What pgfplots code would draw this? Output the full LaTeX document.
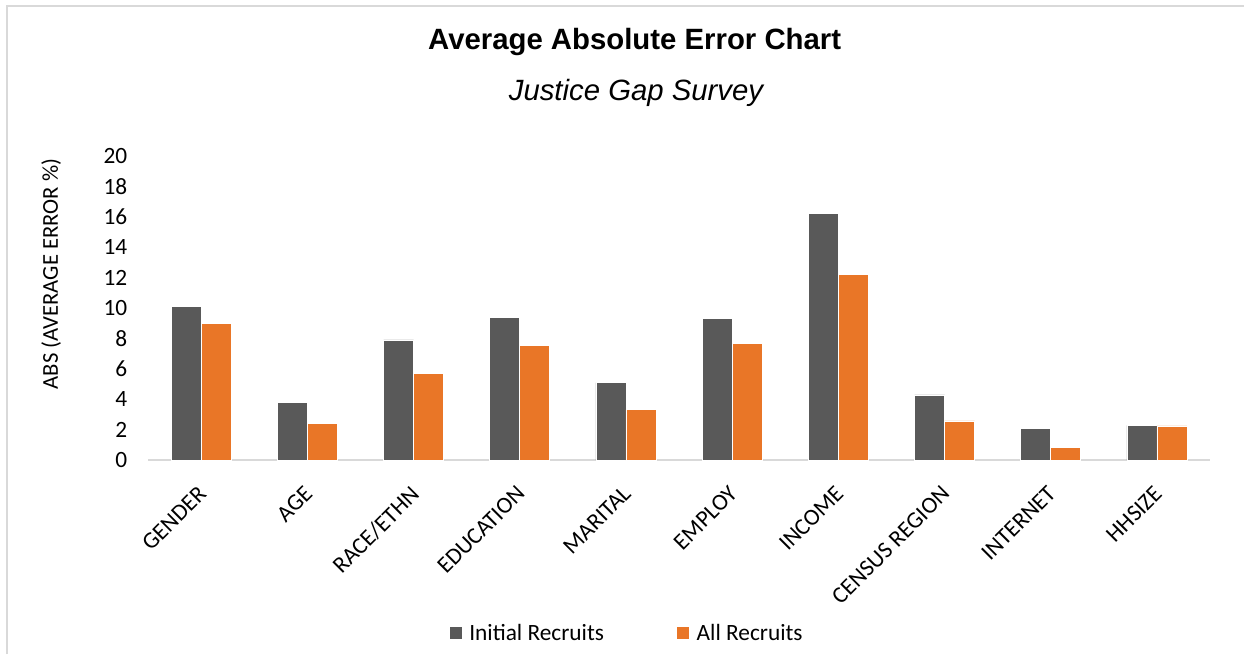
\documentclass[border=0pt]{standalone}
\usepackage{fontspec}
\setmainfont{Carlito}
\newfontfamily\arialfont{Liberation Sans}
\usepackage{pgfplots}
\pgfplotsset{compat=1.18}

\definecolor{initgray}{HTML}{595959}
\definecolor{allorange}{HTML}{E97627}
\definecolor{framegray}{HTML}{D9D9D9}

\begin{document}
\begin{tikzpicture}
\useasboundingbox (0,0) rectangle (933pt,490.5pt);
\draw[framegray, line width=1.5pt] (5.25pt,0) -- (5.25pt,486pt) -- (933pt,486pt);

\node[font=\arialfont\bfseries\fontsize{22}{26}\selectfont] at (476pt,459pt) {Average Absolute Error Chart};
\node[font=\arialfont\itshape\fontsize{22}{26}\selectfont] at (477pt,421pt) {Justice Gap Survey};

\begin{axis}[
    at={(111pt,145.5pt)}, anchor=south west,
    scale only axis,
    width=796.5pt, height=228pt,
    ybar=0pt, bar width=22.5pt,
    xmin=-0.5, xmax=9.5,
    ymin=0, ymax=20,
    ytick={0,2,...,20},
    xtick=data,
    xticklabels={GENDER,AGE,RACE/ETHN,EDUCATION,MARITAL,EMPLOY,INCOME,CENSUS REGION,INTERNET,HHSIZE},
    x tick label style={rotate=45, anchor=north east, font=\fontsize{17.5}{20}\selectfont, text=black, xshift=-11.8pt, yshift=-7.2pt},
    y tick label style={font=\fontsize{17.5}{20}\selectfont, text=black, xshift=-12pt},
    /pgf/number format/assume math mode=true,
    major tick length=0pt,
    axis x line*=bottom, axis y line*=left,
    y axis line style={draw=none},
    x axis line style={draw=framegray, line width=1.2pt},
    ylabel={ABS (AVERAGE ERROR \%)},
    ylabel style={at={(axis description cs:-0.0913,0.612)}, anchor=center, font=\fontsize{17}{20}\selectfont},
    legend style={at={(axis description cs:0.451,-0.569)}, anchor=center, draw=none,
        legend columns=2, font=\fontsize{17.5}{20}\selectfont,
        /tikz/every odd column/.append style={column sep=3pt},
        /tikz/every even column/.append style={column sep=52pt}},
    legend image code/.code={\fill[#1] (0pt,-5pt) rectangle (10pt,5pt);},
]
\addplot[fill=initgray, draw=white, line width=0.5pt] coordinates {
    (0,10.13) (1,3.8) (2,7.9) (3,9.36) (4,5.09) (5,9.3) (6,16.2) (7,4.28) (8,2.08) (9,2.28)
};
\addplot[fill=allorange, draw=white, line width=0.5pt] coordinates {
    (0,9.0) (1,2.4) (2,5.7) (3,7.55) (4,3.33) (5,7.65) (6,12.2) (7,2.57) (8,0.83) (9,2.24)
};
\legend{Initial Recruits, All Recruits}
\end{axis}
\end{tikzpicture}
\end{document}
